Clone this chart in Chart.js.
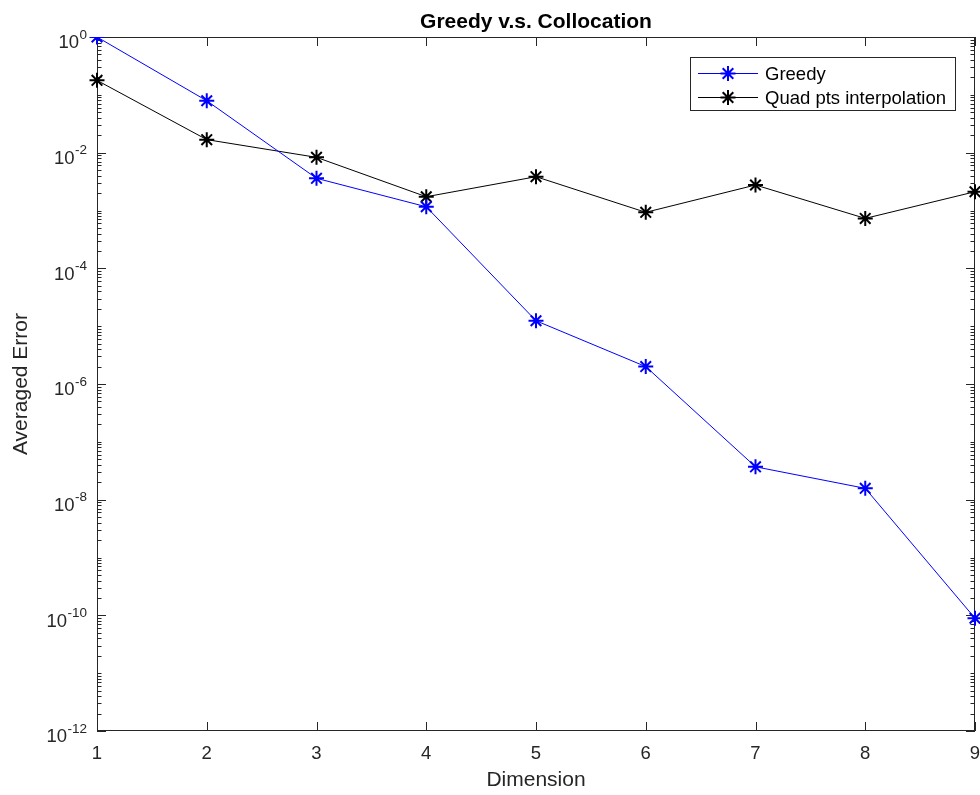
<!DOCTYPE html>
<html><head><meta charset="utf-8">
<script src="https://cdn.jsdelivr.net/npm/chart.js@4.4.1/dist/chart.umd.min.js"></script>
<style>html,body{margin:0;padding:0;background:#fff;} canvas{display:block;}</style>
</head><body>
<canvas id="c" width="980" height="795"></canvas>
<script>
// ---- data ----
const dims = ['1', '2', '3', '4', '5', '6', '7', '8', '9'];
const greedyErr = [1.0, 0.079, 3.6e-3, 1.16e-3, 1.24e-5, 2.0e-6, 3.7e-8, 1.57e-8, 8.9e-11];
const quadErr = [0.178, 0.0168, 8.3e-3, 1.73e-3, 3.84e-3, 9.3e-4, 2.76e-3, 7.3e-4, 2.11e-3];
const yLabelExps = [0, -2, -4, -6, -8, -10, -12];
const seriesNames = ['Greedy', 'Quad pts interpolation'];
const titleText = 'Greedy v.s. Collocation';
const xTitle = 'Dimension';
const yTitle = 'Averaged Error';

const FONT = '"Liberation Sans", Arial, Helvetica, sans-serif';
const AX = '#262626';

function drawStar(ctx, x, y, r, color, lw) {
  ctx.save();
  ctx.strokeStyle = color; ctx.lineWidth = lw;
  ctx.beginPath();
  const d = r * Math.SQRT1_2;
  ctx.moveTo(x - r, y); ctx.lineTo(x + r, y);
  ctx.moveTo(x, y - r); ctx.lineTo(x, y + r);
  ctx.moveTo(x - d, y - d); ctx.lineTo(x + d, y + d);
  ctx.moveTo(x - d, y + d); ctx.lineTo(x + d, y - d);
  ctx.stroke();
  ctx.restore();
}

const axesPlugin = {
  id: 'matlabAxes',
  beforeDatasetsDraw(chart) {
    const {ctx, chartArea: ca, scales} = chart;
    const xs = scales.x, ys = scales.y;
    ctx.save();
    ctx.strokeStyle = AX; ctx.lineWidth = 1;
    ctx.strokeRect(ca.left + 0.5, ca.top + 0.5, ca.right - ca.left - 1, ca.bottom - ca.top - 1);
    ctx.beginPath();
    const major = 9, minor = 4.5;
    dims.forEach((d, i) => {
      const px = Math.round(xs.getPixelForValue(i)) + 0.5;
      ctx.moveTo(px, ca.bottom); ctx.lineTo(px, ca.bottom - major);
      ctx.moveTo(px, ca.top); ctx.lineTo(px, ca.top + major);
    });
    for (let e = -12; e <= 0; e++) {
      const py = Math.round(ys.getPixelForValue(Math.pow(10, e))) + 0.5;
      const len = (e % 2 === 0) ? major : minor;
      ctx.moveTo(ca.left, py); ctx.lineTo(ca.left + len, py);
      ctx.moveTo(ca.right, py); ctx.lineTo(ca.right - len, py);
      if (e < 0) {
        for (let m = 2; m <= 9; m++) {
          const q = Math.round(ys.getPixelForValue(m * Math.pow(10, e))) + 0.5;
          ctx.moveTo(ca.left, q); ctx.lineTo(ca.left + minor, q);
          ctx.moveTo(ca.right, q); ctx.lineTo(ca.right - minor, q);
        }
      }
    }
    ctx.stroke();

    // y tick labels 10^e
    ctx.fillStyle = AX;
    ctx.textBaseline = 'alphabetic';
    ctx.textAlign = 'right';
    const rightEdge = ca.left - 10;
    yLabelExps.forEach(e => {
      const py = ys.getPixelForValue(Math.pow(10, e));
      const sup = String(e);
      ctx.font = '13.5px ' + FONT;
      const sw = ctx.measureText(sup).width;
      ctx.fillText(sup, rightEdge, py + 1.8);
      ctx.font = '18.5px ' + FONT;
      ctx.fillText('10', rightEdge - sw - 0.5, py + 11.3);
    });

    // x tick labels
    ctx.textAlign = 'center';
    ctx.font = '18.5px ' + FONT;
    dims.forEach((d, i) => {
      ctx.fillText(d, xs.getPixelForValue(i), ca.bottom + 28);
    });

    // title
    ctx.font = 'bold 21px ' + FONT;
    ctx.textAlign = 'center';
    ctx.fillStyle = '#000';
    ctx.fillText(titleText, (ca.left + ca.right) / 2, 28);
    ctx.restore();
  },
  afterDatasetsDraw(chart) {
    const {ctx} = chart;
    ctx.save();
    const bx = 690.5, by = 57.5, bw = 265, bh = 53;
    ctx.fillStyle = '#fff';
    ctx.fillRect(bx, by, bw, bh);
    ctx.strokeStyle = AX; ctx.lineWidth = 1;
    ctx.strokeRect(bx, by, bw, bh);
    const rows = [73.5, 97.5];
    chart.data.datasets.forEach((ds, i) => {
      const y = rows[i];
      ctx.strokeStyle = ds.borderColor; ctx.lineWidth = 1;
      ctx.beginPath(); ctx.moveTo(698, y); ctx.lineTo(758, y); ctx.stroke();
      drawStar(ctx, 728, y, 7.5, ds.pointBorderColor, 2);
      ctx.fillStyle = '#000';
      ctx.font = '18.5px ' + FONT;
      ctx.textAlign = 'left'; ctx.textBaseline = 'alphabetic';
      ctx.fillText(ds.label, 765, y + 6);
    });
    ctx.restore();
  }
};

new Chart(document.getElementById('c'), {
  type: 'line',
  data: {
    labels: dims,
    datasets: [
      {
        label: seriesNames[0], data: greedyErr,
        borderColor: '#0000ff', borderWidth: 1,
        pointStyle: 'star', pointRadius: 7.5, pointHoverRadius: 7.5,
        pointBorderColor: '#0000ff', pointBorderWidth: 2,
        pointBackgroundColor: '#0000ff', tension: 0, fill: false
      },
      {
        label: seriesNames[1], data: quadErr,
        borderColor: '#000000', borderWidth: 1,
        pointStyle: 'star', pointRadius: 7.5, pointHoverRadius: 7.5,
        pointBorderColor: '#000000', pointBorderWidth: 2,
        pointBackgroundColor: '#000000', tension: 0, fill: false
      }
    ]
  },
  options: {
    responsive: false,
    animation: false,
    devicePixelRatio: 1,
    layout: {autoPadding: false, padding: {left: 0, top: 37, right: 5, bottom: 0}},
    plugins: {legend: {display: false}, title: {display: false}, tooltip: {enabled: false}},
    scales: {
      x: {
        type: 'category', offset: false,
        grid: {display: false, drawTicks: false},
        border: {display: false},
        ticks: {display: false},
        title: {display: true, text: xTitle, color: AX, font: {family: FONT, size: 21}, padding: {top: 0, bottom: 2}},
        afterFit(s) { s.height = 64; s.paddingLeft = 0; s.paddingRight = 0; }
      },
      y: {
        type: 'logarithmic', min: 1e-12, max: 1,
        grid: {display: false, drawTicks: false},
        border: {display: false},
        ticks: {display: false},
        title: {display: true, text: yTitle, color: AX, font: {family: FONT, size: 21}, padding: {top: 8.6, bottom: 0}},
        afterFit(s) { s.width = 97; s.paddingTop = 0; s.paddingBottom = 0; }
      }
    }
  },
  plugins: [axesPlugin]
});
</script>
</body></html>
